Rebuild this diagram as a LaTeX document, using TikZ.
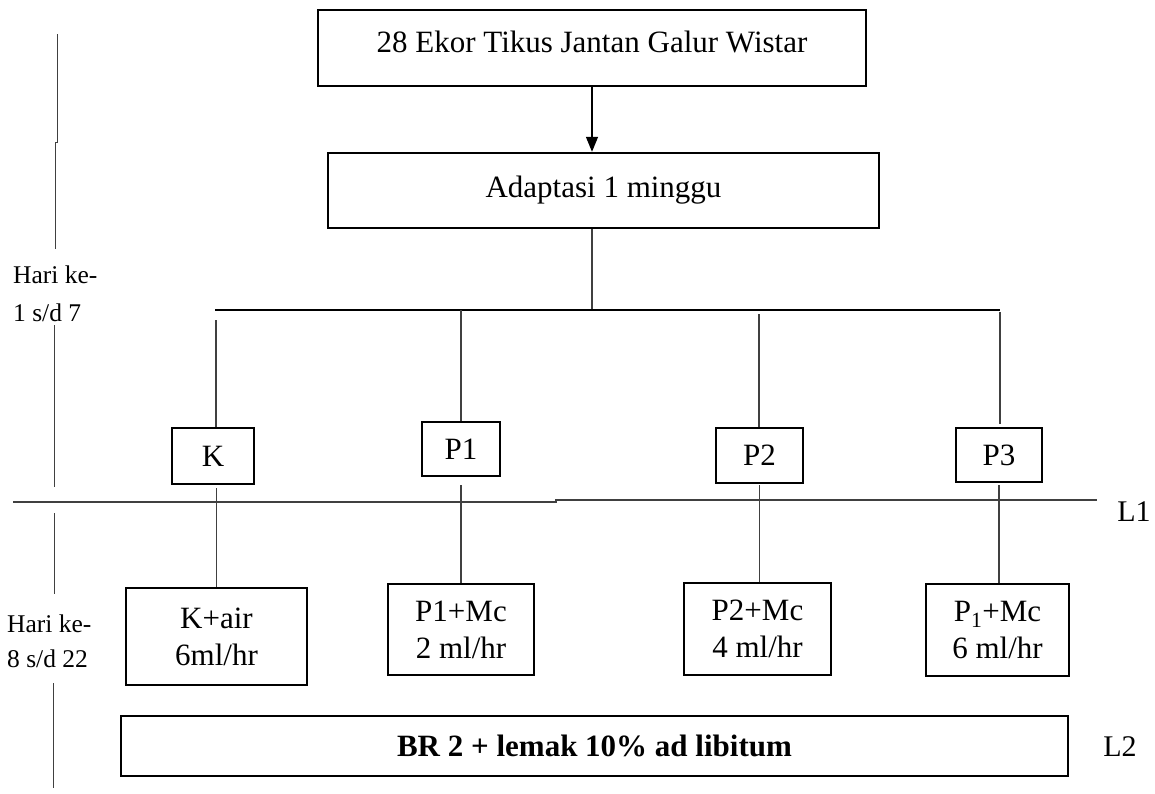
\documentclass[tikz,border=0pt]{standalone}
\usepackage{fontspec}
\setmainfont{Liberation Serif}
\usetikzlibrary{arrows.meta}
\begin{document}
\begin{tikzpicture}[x=1pt,y=-1pt,
  box/.style={draw, line width=2.4pt, inner sep=0pt, align=center,
    font=\fontsize{31}{37}\selectfont},
  conn/.style={line width=1.1pt, draw=black!75},
  side/.style={inner sep=0pt, align=left, anchor=west},
  lbl/.style={inner sep=0pt, font=\fontsize{30}{36}\selectfont}]
\useasboundingbox (0,0) rectangle (1155,793);

% boxes
\node[box, minimum width=548pt, minimum height=76pt, text depth=12pt] (top) at (592,48) {28 Ekor Tikus Jantan Galur Wistar};
\node[box, minimum width=551pt, minimum height=75pt] (adapt) at (603.5,190.5) {Adaptasi 1 minggu};

\node[box, minimum width=82pt, minimum height=56pt] (K) at (213,456) {K};
\node[box, minimum width=78pt, minimum height=54pt] (P1) at (461,449) {P1};
\node[box, minimum width=87pt, minimum height=55pt] (P2) at (759.5,455.5) {P2};
\node[box, minimum width=86pt, minimum height=54pt] (P3) at (999,455) {P3};

\node[box, minimum width=181pt, minimum height=97pt] (Kair) at (216.5,636.5) {K+air\\6ml/hr};
\node[box, minimum width=146pt, minimum height=91pt] (P1Mc) at (461,629.5) {P1+Mc\\2 ml/hr};
\node[box, minimum width=147pt, minimum height=92pt] (P2Mc) at (757.5,629) {P2+Mc\\4 ml/hr};
\node[box, minimum width=143pt, minimum height=92pt] (P3Mc) at (997.5,630) {P\textsubscript{1}+Mc\\6 ml/hr};

\node[box, minimum width=947pt, minimum height=60pt, font=\fontsize{31}{37}\selectfont\bfseries] (BR) at (594.5,746) {BR 2 + lemak 10\% ad libitum};

% side labels
\node[side, font=\fontsize{25.5}{38}\selectfont] (h1) at (13,294) {Hari ke-\\1 s/d 7};
\node[side, font=\fontsize{25.5}{35}\selectfont] (h2) at (7,641) {Hari ke-\\8 s/d 22};
\node[lbl] (L1) at (1134,512) {L1};
\node[lbl] (L2) at (1120,747) {L2};

% arrow
\draw[line width=1.4pt, -{Triangle[width=12pt,length=15pt]}] (top.south) -- (top.south |- adapt.north);

% tree
\coordinate (hub) at (592,310);
\coordinate (hl) at (215,310);
\coordinate (hr) at (1000,310);
\draw[conn] (adapt.south -| hub) -- (hub);
\draw[line width=1.1pt] (hl) -- (hr);

\coordinate (kt) at (216,320);
\coordinate (p1t) at (461,310);
\coordinate (p2t) at (759,314);
\coordinate (p3t) at (1000,312);
\draw[conn] (kt) -- (kt |- K.north);
\draw[conn] (p1t) -- (p1t |- P1.north);
\draw[conn] (p2t) -- (p2t |- P2.north);
\draw[conn] (p3t) -- ([yshift=3pt]p3t |- P3.north);

\draw[conn] ([yshift=-3pt]Kair.north |- K.south) -- (Kair.north);
\draw[conn] ([yshift=-8pt]P1Mc.north |- P1.south) -- (P1Mc.north);
\draw[conn] ([yshift=-1pt]P2.south) -- (P2.south |- P2Mc.north);
\draw[conn] ([yshift=-2pt]P3.south) -- (P3.south |- P3Mc.north);

% L1 line
\coordinate (l1a) at (13,502);
\coordinate (l1b) at (556,502);
\coordinate (l1c) at (556,500);
\coordinate (l1d) at (1097,500);
\draw[conn] (l1a) -- (l1b) -- (l1c) -- (l1d);

% left time lines
\coordinate (t1) at (57,34);
\coordinate (t2) at (57,142);
\coordinate (t3) at (55,142);
\coordinate (t4) at (55,249);
\draw[conn, line width=1pt] (t1) -- (t2) -- (t3) -- (t4);
\coordinate (t5) at (54,325);
\coordinate (t6) at (54,487);
\draw[conn, line width=1pt] (t5) -- (t6);
\coordinate (t7) at (54,513);
\coordinate (t8) at (54,594);
\draw[conn, line width=1pt] (t7) -- (t8);
\coordinate (t9) at (53,683);
\coordinate (t10) at (53,788);
\draw[conn, line width=1pt] (t9) -- (t10);
\end{tikzpicture}
\end{document}
